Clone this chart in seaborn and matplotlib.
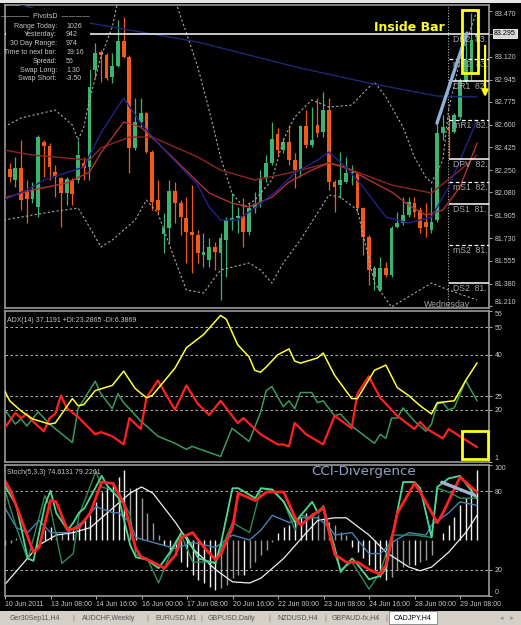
import numpy as np
import pandas as pd
import matplotlib
matplotlib.use("Agg")
import matplotlib.pyplot as plt
import seaborn as sns
from matplotlib.patches import Rectangle

# CADJPY H4, 10 Jun 2011 00:00 -> 29 Jun 2011 20:00 (84 bars)
opens = [82.611, 82.259, 82.175, 82.267, 82.083, 82.029, 81.968, 82.466, 82.435, 82.236,
         82.190, 82.075, 82.175, 82.175, 82.305, 82.274, 83.018, 83.156, 83.133, 82.964,
         83.048, 83.240, 83.117, 82.420, 82.619, 82.688, 82.389, 82.021, 81.760, 81.807,
         82.090, 81.998, 81.883, 81.776, 81.753, 81.600, 81.562, 81.661, 81.615, 81.715,
         81.868, 81.883, 81.899, 81.776, 81.960, 81.991, 82.190, 82.305, 82.527, 82.405,
         82.466, 82.328, 82.251, 82.589, 82.443, 82.596, 82.543, 82.711, 82.159, 82.136,
         82.159, 82.228, 82.221, 81.960, 81.738, 81.431, 81.332, 81.500, 81.447, 81.815,
         81.845, 81.906, 81.998, 81.945, 81.853, 81.792, 81.868, 82.535, 82.573, 82.543,
         82.657, 82.926, 82.979, 83.270]
highs = [82.634, 82.305, 82.351, 82.481, 82.175, 82.159, 82.520, 82.481, 82.458, 82.290,
         82.198, 82.198, 82.190, 82.481, 82.351, 83.056, 83.224, 83.171, 83.148, 83.148,
         83.401, 83.424, 83.133, 82.803, 82.803, 82.696, 82.405, 82.175, 81.920, 82.175,
         82.159, 82.021, 82.044, 82.136, 81.792, 81.769, 81.730, 81.700, 81.769, 81.891,
         82.075, 81.968, 82.037, 81.998, 82.083, 82.251, 82.366, 82.619, 82.573, 82.497,
         82.596, 82.382, 82.596, 82.711, 82.734, 82.803, 82.849, 82.803, 82.175, 82.389,
         82.351, 82.290, 82.236, 81.968, 81.753, 81.516, 81.585, 81.546, 81.822, 81.929,
         82.044, 82.044, 82.044, 81.968, 81.998, 82.121, 82.611, 82.673, 82.673, 82.688,
         82.956, 83.301, 83.454, 83.440]
lows = [82.213, 82.159, 82.121, 81.945, 81.845, 81.998, 81.891, 82.198, 82.175, 82.044,
        81.815, 81.983, 81.983, 82.152, 82.175, 82.175, 82.956, 82.926, 82.941, 82.918,
        83.041, 83.110, 82.228, 82.405, 82.581, 82.382, 81.945, 81.922, 81.615, 81.692,
        81.845, 81.753, 81.539, 81.462, 81.539, 81.508, 81.508, 81.485, 81.255, 81.431,
        81.792, 81.769, 81.661, 81.753, 81.922, 81.968, 82.159, 82.290, 82.366, 82.382,
        82.290, 82.113, 82.198, 82.420, 82.428, 82.504, 82.504, 82.098, 81.929, 82.037,
        82.152, 82.136, 81.929, 81.600, 81.370, 81.332, 81.325, 81.431, 81.431, 81.807,
        81.830, 81.891, 81.891, 81.769, 81.738, 81.769, 81.853, 82.481, 82.351, 82.535,
        82.634, 82.918, 82.941, 83.240]
closes = [82.251, 82.198, 82.267, 82.021, 82.029, 82.098, 82.504, 82.435, 82.274, 82.198,
          82.075, 82.182, 82.067, 82.366, 82.267, 83.018, 83.148, 83.133, 82.956, 83.048,
          83.240, 83.117, 82.420, 82.619, 82.688, 82.389, 82.006, 81.945, 81.807, 82.090,
          81.998, 81.891, 81.776, 81.753, 81.615, 81.623, 81.661, 81.623, 81.730, 81.868,
          81.883, 81.899, 81.776, 81.960, 81.991, 82.190, 82.305, 82.489, 82.405, 82.466,
          82.328, 82.251, 82.589, 82.443, 82.481, 82.535, 82.711, 82.159, 82.121, 82.175,
          82.228, 82.236, 81.960, 81.738, 81.485, 81.500, 81.500, 81.447, 81.807, 81.845,
          81.906, 82.006, 81.929, 81.807, 81.815, 81.853, 82.535, 82.581, 82.558, 82.673,
          82.926, 83.094, 83.247, 83.295]

# moving averages / bands read at key bars
ma_slow_bar = [0, 3, 15, 34, 52, 64, 76, 83]
ma_slow = [83.56, 83.516, 83.378, 83.232, 83.033, 82.918, 82.818, 82.811]
ma_fast_bar = [0, 5, 7, 14, 17, 21, 24, 27, 32, 34, 36, 38, 41, 44, 48, 51, 55, 57, 60,
               63, 67, 71, 75, 78, 83]
ma_fast = [82.021, 82.121, 82.175, 82.274, 82.535, 82.803, 82.611, 82.458, 82.228, 82.136,
           81.968, 81.868, 81.868, 81.960, 82.098, 82.228, 82.328, 82.389, 82.274, 82.121,
           81.891, 81.845, 81.891, 82.121, 82.634]
ma_mid_bar = [0, 5, 11, 15, 17, 21, 24, 27, 34, 36, 40, 43, 47, 50, 54, 57, 60, 64, 68,
              71, 74, 77, 80, 83]
ma_mid = [82.037, 82.098, 82.152, 82.236, 82.382, 82.619, 82.581, 82.458, 82.159, 82.075,
          81.998, 81.968, 82.044, 82.159, 82.251, 82.305, 82.274, 82.175, 82.083, 81.983,
          81.906, 81.945, 82.121, 82.458]
ma_long_bar = [0, 5, 11, 15, 17, 22, 26, 34, 38, 44, 50, 57, 62, 68, 75, 80, 83]
ma_long = [82.405, 82.366, 82.343, 82.328, 82.420, 82.504, 82.504, 82.351, 82.251, 82.175,
           82.228, 82.305, 82.236, 82.136, 82.075, 82.251, 82.366]
bb_up_bar = [0, 3, 9, 12, 13, 14, 15, 17, 19, 20, 26, 30, 32, 34, 36, 38, 40, 42, 44, 47,
             49, 51, 54, 57, 61, 63, 65, 67, 70, 72, 74, 75, 77, 78, 80, 83]
bb_up = [82.581, 82.650, 82.711, 82.596, 82.481, 82.581, 82.788, 83.117, 83.347, 83.554,
         83.710, 83.554, 83.301, 83.041, 82.711, 82.351, 82.075, 81.968, 82.021, 82.175,
         82.481, 82.657, 82.788, 82.734, 82.749, 82.841, 82.926, 82.811, 82.581, 82.351,
         82.198, 82.152, 82.328, 82.711, 83.094, 83.477]
bb_lo_bar = [0, 5, 8, 13, 15, 17, 19, 23, 25, 27, 30, 32, 35, 38, 43, 45, 47, 49, 52, 55,
             57, 59, 62, 65, 68, 70, 75, 78, 83]
bb_lo = [81.868, 81.906, 81.929, 81.960, 81.815, 81.661, 81.715, 81.868, 82.021, 81.922,
         81.562, 81.332, 81.309, 81.485, 81.539, 81.485, 81.385, 81.539, 81.715, 81.922,
         82.060, 82.044, 81.945, 81.385, 81.202, 81.255, 81.385, 81.332, 81.255]

# daily pivots
piv_names = ["DR2", "mR2", "DR1", "mR1", "DPV", "mS1", "DS1", "mS2", "DS2"]
piv_levels = [83.295, 83.102, 82.933, 82.634, 82.336, 82.159, 81.991, 81.677, 81.385]
price_ticks = [83.470, 83.295, 83.120, 82.945, 82.775, 82.600, 82.425, 82.250, 82.080,
               81.905, 81.730, 81.555, 81.380, 81.210]
bid = 83.295

pivot_rows = [("Range Today:", "1026"), ("Yesterday:", "942"), ("30 Day Range:", "974"),
              ("Time to next bar:", "19:16"), ("Spread:", "56"), ("Swap Long:", "1.30"),
              ("Swap Short:", "-3.50")]

# ADX(14)
adx_bar = [0, 1, 3, 5, 8, 9, 12, 13, 14, 16, 19, 21, 23, 25, 26, 30, 32, 35, 38, 39, 41,
           43, 44, 45, 46, 48, 50, 51, 52, 55, 56, 58, 61, 62, 65, 67, 69, 71, 73, 75, 76,
           79, 81, 83]
adx = [27.4, 23.3, 19.6, 16.7, 14.8, 15.2, 24.1, 21.5, 21.9, 27.0, 28.9, 34.1, 27.8, 24.4,
       25.2, 35.2, 42.6, 47.4, 54.4, 53.0, 43.7, 39.3, 34.4, 33.7, 35.6, 40.0, 42.2, 37.8,
       37.0, 38.9, 40.7, 32.6, 24.1, 24.1, 34.4, 36.3, 28.1, 25.2, 21.5, 18.5, 22.6, 23.3,
       30.7, 37.1]
pdi_bar = [0, 2, 3, 4, 6, 8, 12, 13, 16, 17, 19, 20, 21, 24, 27, 30, 32, 33, 38, 40, 43,
           45, 46, 47, 49, 50, 51, 52, 54, 55, 56, 58, 59, 61, 65, 66, 67, 68, 69, 70, 72,
           74, 75, 76, 77, 78, 79, 81, 83]
pdi = [20.4, 14.8, 16.7, 14.1, 19.3, 14.8, 8.1, 20.4, 30.4, 25.9, 20.4, 25.9, 22.6, 15.9,
       10.4, 7.8, 5.6, 6.7, 3.0, 13.3, 8.5, 18.9, 27.0, 28.5, 21.1, 23.3, 20.4, 26.3, 26.3,
       22.6, 23.3, 17.8, 18.5, 14.1, 7.8, 11.1, 9.6, 17.0, 17.0, 20.7, 15.9, 12.2, 14.8,
       22.2, 22.6, 20.0, 20.7, 30.7, 23.3]
mdi_bar = [0, 2, 3, 4, 5, 7, 8, 9, 10, 11, 13, 16, 17, 19, 21, 22, 24, 25, 27, 30, 32, 34,
           36, 38, 41, 42, 45, 48, 49, 50, 51, 53, 56, 58, 61, 62, 64, 66, 69, 72, 73, 74,
           77, 78, 83]
mdi = [13.0, 18.9, 17.0, 18.5, 15.9, 12.2, 17.0, 18.5, 25.2, 20.7, 17.4, 11.1, 11.9, 10.4,
       7.4, 17.0, 13.0, 24.4, 30.7, 20.0, 28.9, 22.2, 18.1, 23.3, 15.2, 17.0, 11.1, 7.4,
       7.4, 6.7, 15.2, 11.1, 7.4, 17.8, 13.3, 25.9, 32.2, 24.4, 17.8, 13.0, 15.6, 13.3,
       9.6, 13.0, 6.4]

# Stoch(5,3,3) and overlays
st_red_bar = [0, 1, 5, 6, 8, 9, 11, 13, 15, 17, 19, 21, 23, 24, 26, 28, 30, 31, 33, 35, 37,
              38, 40, 41, 44, 46, 49, 51, 52, 54, 56, 57, 58, 60, 62, 64, 66, 67, 69, 72,
              73, 76, 77, 80, 83]
st_red = [87.9, 80.4, 33.4, 37.1, 72.9, 71.9, 50.3, 52.2, 63.5, 87.0, 86.0, 69.1, 36.2,
          29.6, 25.9, 21.2, 31.5, 44.7, 48.4, 37.1, 27.7, 32.4, 52.2, 78.5, 72.9, 79.4,
          79.4, 59.7, 54.1, 61.6, 67.2, 48.4, 31.5, 25.9, 25.9, 20.2, 16.5, 24.0, 63.5,
          86.0, 79.4, 56.0, 63.5, 90.7, 79.2]
st_green_bar = [0, 2, 4, 5, 7, 8, 9, 11, 12, 13, 14, 17, 18, 20, 22, 23, 25, 27, 29, 31,
                32, 34, 37, 38, 40, 41, 44, 45, 47, 49, 51, 52, 54, 55, 56, 58, 59, 61, 62,
                64, 66, 67, 70, 72, 73, 75, 76, 78, 80, 83]
st_green = [84.1, 69.1, 28.7, 26.8, 69.1, 80.4, 63.5, 50.3, 56.0, 63.5, 67.2, 91.7, 84.1,
            74.7, 39.0, 29.6, 27.7, 21.2, 33.4, 48.4, 44.7, 28.7, 24.9, 40.9, 82.3, 82.3,
            74.7, 82.3, 81.3, 71.9, 56.0, 61.6, 71.9, 63.5, 67.2, 36.2, 18.3, 28.7, 24.0,
            12.7, 15.5, 21.2, 87.0, 87.0, 82.3, 44.7, 83.2, 89.8, 91.7, 74.6]
st_teal_bar = [0, 2, 4, 7, 8, 10, 12, 13, 16, 17, 20, 22, 23, 25, 27, 29, 31, 33, 35, 37,
               40, 43, 45, 47, 49, 51, 52, 54, 56, 58, 59, 61, 64, 66, 68, 70, 72, 75, 76,
               78, 80, 83]
st_teal = [80.4, 52.2, 27.7, 76.6, 67.2, 24.9, 32.4, 61.6, 95.4, 83.2, 79.4, 61.6, 31.5,
           28.7, 9.9, 31.5, 46.5, 25.9, 25.9, 25.9, 56.0, 48.4, 82.3, 80.4, 71.9, 50.3,
           61.6, 59.7, 69.1, 31.5, 20.2, 25.9, 5.2, 18.3, 46.5, 46.5, 46.5, 44.7, 82.3,
           79.4, 74.7, 74.7]
st_blue_bar = [0, 2, 4, 6, 8, 11, 14, 16, 19, 20, 22, 23, 26, 30, 33, 37, 40, 43, 45, 47,
               50, 52, 55, 57, 58, 61, 62, 64, 66, 68, 71, 74, 75, 78, 80, 83]
st_blue = [67.2, 52.2, 48.4, 57.8, 48.4, 48.4, 57.8, 68.2, 63.5, 63.5, 56.0, 44.7, 40.9,
           36.2, 40.9, 37.1, 46.5, 42.8, 50.3, 61.6, 56.0, 59.7, 59.7, 52.2, 46.5, 48.4,
           42.8, 32.4, 32.4, 40.9, 48.4, 46.5, 54.1, 63.5, 71.9, 69.1]
st_white_bar = [0, 3, 6, 9, 12, 15, 18, 22, 24, 26, 30, 33, 37, 40, 43, 45, 49, 53, 55,
                58, 60, 64, 67, 71, 73, 75, 78, 81, 83]
st_white = [8.9, 24.0, 39.0, 46.5, 48.4, 52.2, 63.5, 78.5, 83.2, 78.5, 56.0, 36.2, 20.2,
            10.8, 9.9, 13.6, 28.7, 48.4, 57.8, 59.7, 59.7, 46.5, 33.4, 22.1, 19.3, 22.1,
            33.4, 48.4, 61.6]
osma = [-5, -3, 2, 0, 0, 0, 0, 10, 13, 8, 7, 8, 10, 15, 20, 25, 38, 48, 53, 58, 63, 70,
        52, 52, 42, 27, 17, 5, -5, -10, -15, -22, -27, -35, -40, -43, -47, -50, -48, -45,
        -38, -35, -35, -28, -22, -15, -10, -2, 7, 13, 15, 20, 23, 27, 27, 25, 22, 18, 15,
        8, 5, -7, -12, -18, -25, -30, -37, -40, -37, -30, -27, -25, -25, -22, -20, -15, 0,
        7, 15, 23, 35, 42, 52, 70]

date_ticks = [0, 8, 16, 24, 32, 40, 48, 56, 64, 72, 80]
date_labels = ["10 Jun 2011", "13 Jun 08:00", "14 Jun 16:00", "16 Jun 00:00", "17 Jun 08:00",
               "20 Jun 16:00", "22 Jun 00:00", "23 Jun 08:00", "24 Jun 16:00", "28 Jun 00:00",
               "29 Jun 08:00"]
tabs = ["Ger30Sep11,H4", "AUDCHF,Weekly", "EURUSD,M1", "GBPUSD,Daily", "NZDUSD,H4",
        "GBPAUD-fx,H4"]

sns.set_style("dark")
plt.rcParams["font.family"] = ["Liberation Sans", "DejaVu Sans"]

W, H = 521, 625
fig = plt.figure(figsize=(W / 100, H / 100), dpi=100, facecolor="black")
X0, X1 = 5, 489
XL = (0.18, 85.09)
TXT = "#c8c8c8"
GRID = "#9a9a9a"


def panel(top, bottom):
    a = fig.add_axes([X0 / W, 1 - bottom / H, (X1 - X0) / W, (bottom - top) / H])
    a.set_facecolor("black")
    for s in a.spines.values():
        s.set_color(GRID)
        s.set_linewidth(1.2)
    a.set_xlim(*XL)
    a.tick_params(axis="x", bottom=False, labelbottom=False)
    a.grid(False)
    return a


def right_ticks(a, ticks, labels):
    a.yaxis.tick_right()
    a.yaxis.set_label_position("right")
    a.set_yticks(ticks)
    a.set_yticklabels(labels)
    a.tick_params(axis="y", left=False, labelleft=False, right=True, labelright=True,
                  colors=TXT, labelsize=5, length=2, width=0.6, pad=2)
    tl = a.get_yticklabels()
    # MT4 keeps the outermost labels inside the panel
    i_top = int(np.argmax(ticks))
    i_bot = int(np.argmin(ticks))
    tl[i_top].set_va("top")
    tl[i_bot].set_va("bottom")


ax = panel(5, 308)
ax_adx = panel(311, 462)
ax_st = panel(465, 596)

# ---------- main price panel ----------
ax.set_ylim(81.194, 83.516)
bars = np.arange(len(opens))
o, h, l, c = map(np.array, (opens, highs, lows, closes))
up = c >= o
col = np.where(up, "#3cb371", "#f25a1c")
ax.vlines(bars, l, h, colors=col, lw=0.9, zorder=3)
body = np.maximum(np.abs(c - o), 0.006)
ax.bar(bars, body, bottom=np.minimum(o, c), width=0.66, color=col, lw=0, zorder=4)

for xs, ys, colr, ls, lw in [
    (bb_up_bar, bb_up, "#a8a8a8", (0, (2, 2)), 0.8),
    (bb_lo_bar, bb_lo, "#a8a8a8", (0, (2, 2)), 0.8),
    (ma_slow_bar, ma_slow, "#1c2a78", "-", 1.0),
    (ma_long_bar, ma_long, "#8e2424", "-", 1.0),
    (ma_mid_bar, ma_mid, "#b03232", "-", 1.0),
    (ma_fast_bar, ma_fast, "#22228e", "-", 1.0),
]:
    sns.lineplot(x=xs, y=ys, ax=ax, color=colr, lw=lw, linestyle=ls, sort=False,
                 estimator=None, zorder=5)

# pivots
sep = 78
ax.axvline(sep - 0.05, color="#b0b0b0", lw=0.8, ls=(0, (1, 1.5)), zorder=2)
for name, lev in zip(piv_names, piv_levels):
    dashed = name.startswith("m")
    x_start = XL[0] if name == "DR2" else sep
    ax.hlines(lev, x_start, XL[1], colors="white", lw=1.1 if not dashed else 0.9,
              linestyles=(0, (3, 2)) if dashed else "-", zorder=6)
    # the value is cut by the price scale, as on the terminal
    ax.text(sep + 0.8, lev - 0.045, f"{name}  {lev:.3f}"[:8], color="#a8a8a8",
            fontsize=6.2, va="center", ha="left", clip_on=True, zorder=7)
ax.text(sep - 0.3, 81.222, "Wednesday", color="#a0a0a0", fontsize=6.3, ha="center",
        va="center", zorder=7)

right_ticks(ax, price_ticks, [f"{t:.3f}" for t in price_ticks])
ax.annotate(f"{bid:.3f}", xy=(1, bid), xycoords=ax.get_yaxis_transform(), xytext=(3.5, 0),
            textcoords="offset points", va="center", ha="left", fontsize=5, color="black",
            bbox=dict(boxstyle="square,pad=0.15", fc="#d6d6d6", ec="white", lw=0.6),
            zorder=10, annotation_clip=False)

# annotations
ax.plot([75.96, 81.2], [82.611, 83.301], color="#8fb0d8", lw=2.4, zorder=8,
        solid_capstyle="round")
ax.add_patch(Rectangle((80.35, 82.995), 2.85, 0.482, fill=False, ec="#ffff1e", lw=2.0,
                       zorder=9))
ax.annotate("", xy=(84.4, 82.79), xytext=(84.4, 83.225),
            arrowprops=dict(arrowstyle="-|>", color="#ffff1e", lw=1.6, mutation_scale=9),
            zorder=9)
ax.text(71.2, 83.347, "Inside Bar", color="#ffff1e", fontsize=9, fontweight="bold",
        family="DejaVu Sans", ha="center", va="center", zorder=9)

# pivot info box (covers the chart below it)
fig.add_artist(Rectangle((X0 / W + 0.002, 1 - 87 / H), 84 / W, 79 / H,
                         transform=fig.transFigure, fc="black", ec="none", zorder=1))
fig.text(45 / W, 1 - 17 / H, "\u2014\u2014\u2014\u2014  PivotsD  \u2014\u2014\u2014\u2014",
         color=TXT, fontsize=5, ha="center", va="center", zorder=3)
for k, (lab, val) in enumerate(pivot_rows):
    yy = 1 - (26 + 8.8 * k) / H
    fig.text(57 / W, yy, lab, color=TXT, fontsize=5, ha="right", va="center", zorder=3)
    fig.text(66 / W, yy, val, color=TXT, fontsize=5, ha="left", va="center", zorder=3)

# ---------- ADX panel ----------
ax_adx.set_ylim(1, 56)
for lv in [50, 40, 25, 20]:
    ax_adx.axhline(lv, color="#d0d0d0", lw=0.6, ls=(0, (3, 3)), zorder=1)
sns.lineplot(x=pdi_bar, y=pdi, ax=ax_adx, color="#3a9a5e", lw=1.1, sort=False,
             estimator=None, zorder=3)
sns.lineplot(x=mdi_bar, y=mdi, ax=ax_adx, color="#ff2020", lw=1.6, sort=False,
             estimator=None, zorder=4)
sns.lineplot(x=adx_bar, y=adx, ax=ax_adx, color="#ffff3c", lw=1.1, sort=False,
             estimator=None, zorder=5)
right_ticks(ax_adx, [56, 50, 40, 25, 20, 1], ["56", "50", "40", "25", "20", "1"])
ax_adx.text(0.005, 0.96, "ADX(14) 37.1191 +DI:23.2865 -DI:6.3869", transform=ax_adx.transAxes,
            color=TXT, fontsize=5, ha="left", va="top")
ax_adx.add_patch(Rectangle((80.35, 2.0), 4.55, 10.3, fill=False, ec="#ffff1e", lw=2.0,
                           zorder=9, clip_on=False))

# ---------- Stoch panel ----------
ax_st.set_ylim(0, 100)
ax_h = ax_st.twinx()
ax_h.set_ylim(-56, 75)
ax_h.set_xlim(*XL)
ax_h.axis("off")
osma_arr = np.array(osma, dtype=float)
grow = np.abs(osma_arr) >= np.abs(np.r_[0, osma_arr[:-1]])
ax_h.vlines(bars, 0, osma_arr, colors=np.where(grow, "#f0f0f0", "#9a9a9a"), lw=1.0)
ax_st.set_zorder(ax_h.get_zorder() + 1)
ax_st.patch.set_visible(False)

for lv in [80, 20]:
    ax_st.axhline(lv, color="#d0d0d0", lw=0.6, ls=(0, (3, 3)), zorder=1)
for xs, ys, colr, lw in [
    (st_white_bar, st_white, "#f0f0f0", 0.9),
    (st_blue_bar, st_blue, "#4682b4", 1.0),
    (st_teal_bar, st_teal, "#2e8b57", 1.0),
    (st_green_bar, st_green, "#50d890", 1.3),
    (st_red_bar, st_red, "#ff2222", 2.0),
]:
    sns.lineplot(x=xs, y=ys, ax=ax_st, color=colr, lw=lw, sort=False, estimator=None)
ax_st.plot([76.8, 82.6], [86.8, 76.9], color="#9fb4d4", lw=2.4, solid_capstyle="round")
ax_st.text(63, 95.0, "CCI-Divergence", color="#8ea3c4", fontsize=9.7, family="DejaVu Sans",
           ha="center", va="center")
ax_st.text(0.005, 0.97, "Stoch(5,3,3) 74.6131 79.2261", transform=ax_st.transAxes,
           color=TXT, fontsize=5, ha="left", va="top")
right_ticks(ax_st, [100, 80, 20, 0], ["100", "80", "20", "0"])
ax_st.set_xticks(date_ticks)
ax_st.set_xticklabels(date_labels)
ax_st.tick_params(axis="x", bottom=True, labelbottom=True, colors=TXT, labelsize=5,
                  length=2, width=0.6, pad=1.5)
for lbl in ax_st.get_xticklabels():
    lbl.set_ha("left")
for a in (ax, ax_adx, ax_st, ax_h):
    a.set_xlabel("")
    a.set_ylabel("")

# ---------- window chrome ----------
fig.add_artist(Rectangle((0, 1 - 3 / H), 1, 3 / H, transform=fig.transFigure,
                         fc="#e6e6e6", ec="none", zorder=0))
fig.add_artist(Rectangle((0, 0), 1, 14 / H, transform=fig.transFigure, fc="#d4d0c8",
                         ec="none", zorder=1))
fig.add_artist(Rectangle((389 / W, 1 / H), 48 / W, 13 / H, transform=fig.transFigure,
                         fc="white", ec="#808080", lw=0.6, zorder=2))
tab_x = [10, 82, 155, 208, 277, 332]
sep_x = [73, 147, 201, 269, 325, 386]
for tx, name in zip(tab_x, tabs):
    fig.text(tx / W, 7 / H, name, color="#505050", fontsize=5, ha="left", va="center",
             zorder=3)
for sx in sep_x:
    fig.text(sx / W, 7 / H, "|", color="#808080", fontsize=5.5, ha="center", va="center",
             zorder=3)
fig.text(413 / W, 7 / H, "CADJPY,H4", color="black", fontsize=5, ha="center",
         va="center", zorder=3)
fig.text(507 / W, 7 / H, "\u25c2   \u25b8", color="#909090", fontsize=5, ha="center",
         va="center", family="DejaVu Sans", zorder=3)

fig.savefig("out.png", dpi=100, facecolor="black")
